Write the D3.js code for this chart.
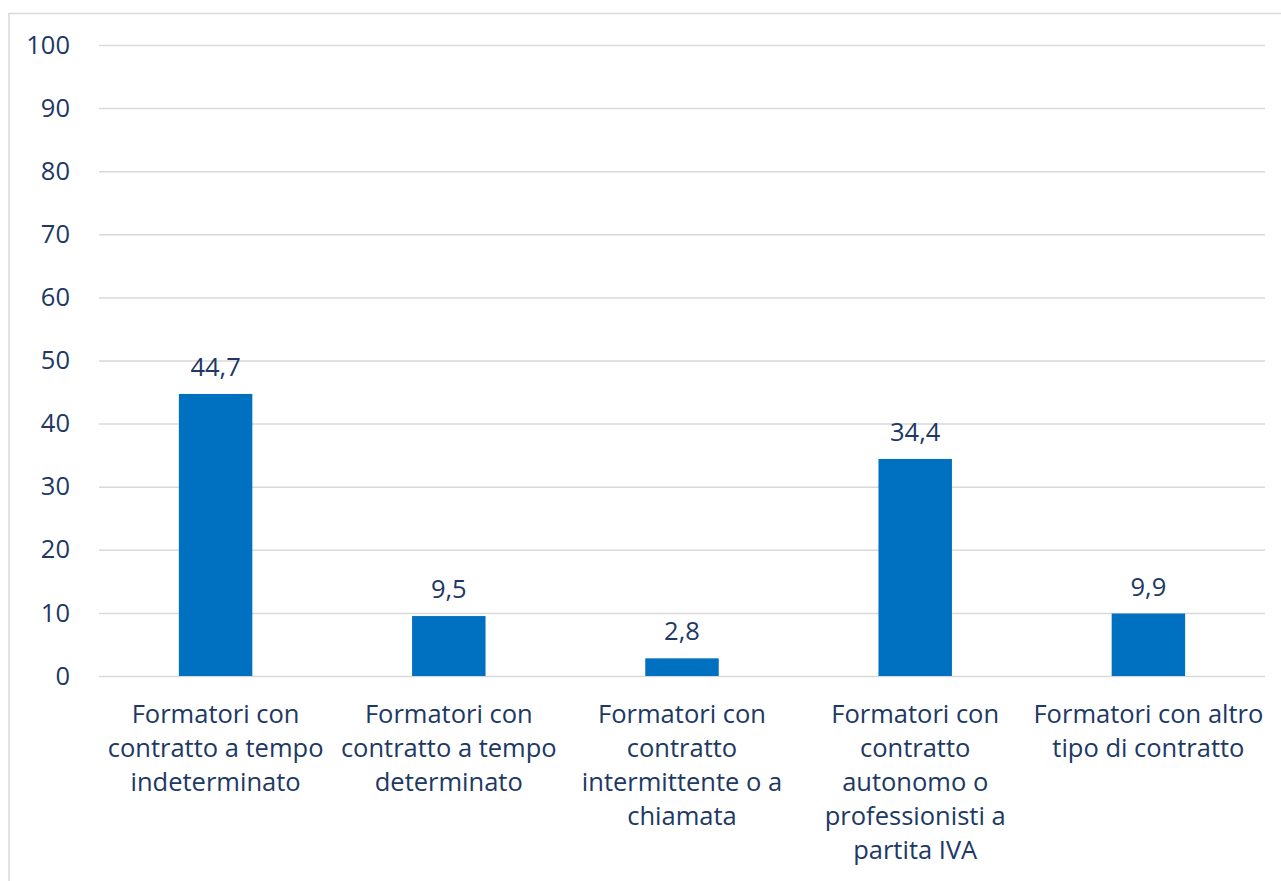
<!DOCTYPE html>
<html><head><meta charset="utf-8">
<script src="https://cdn.jsdelivr.net/npm/d3@7"></script>
<style>body{margin:0;background:#fff;} svg{display:block;}</style>
</head><body>
<svg id="chart" width="1281" height="881"></svg>
<script>
const categories = [
  ["Formatori con", "contratto a tempo", "indeterminato"],
  ["Formatori con", "contratto a tempo", "determinato"],
  ["Formatori con", "contratto", "intermittente o a", "chiamata"],
  ["Formatori con", "contratto", "autonomo o", "professionisti a", "partita IVA"],
  ["Formatori con altro", "tipo di contratto"]
];
const values = [44.7, 9.5, 2.8, 34.4, 9.9];
const yTicks = [0, 10, 20, 30, 40, 50, 60, 70, 80, 90, 100];

(function() {
const svg = d3.select("#chart");
const font = "'Open Sans', 'Noto Sans', sans-serif";
const fs = "25.5px";
const textColor = "#203864";
const mLeft = 99, mRight = 1265, mTop = 45, mBottom = 676;

svg.append("rect").attr("x", 9).attr("y", 13.5).attr("width", 1300).attr("height", 900)
  .attr("fill", "none").attr("stroke", "#d9d9d9").attr("stroke-width", 1.5);

const x = d3.scaleBand().domain(d3.range(values.length)).range([mLeft, mRight]).paddingInner(0.685).paddingOuter(0.3425);
const y = d3.scaleLinear().domain([0, 100]).range([mBottom, mTop]);

const yAxis = svg.append("g").attr("transform", `translate(${mLeft},0)`)
  .call(d3.axisLeft(y).tickValues(yTicks).tickSize(-(mRight - mLeft)).tickPadding(29));
yAxis.select(".domain").remove();
yAxis.selectAll(".tick line").attr("stroke", "#d9d9d9").attr("stroke-width", 1.5);
yAxis.selectAll(".tick text").attr("fill", textColor).style("font-family", font).style("font-size", fs);

svg.append("g").selectAll("rect").data(values).join("rect")
  .attr("x", (d, i) => x(i)).attr("width", x.bandwidth())
  .attr("y", d => y(d)).attr("height", d => y(0) - y(d))
  .attr("fill", "#0070C0");

svg.append("g").selectAll("text").data(values).join("text")
  .attr("x", (d, i) => x(i) + x.bandwidth() / 2)
  .attr("y", d => y(d) - 18)
  .attr("text-anchor", "middle").attr("fill", textColor)
  .style("font-family", font).style("font-size", fs)
  .text(d => d3.format(".1f")(d).replace(".", ","));

const labels = svg.append("g").selectAll("text").data(categories).join("text")
  .attr("text-anchor", "middle").attr("fill", textColor)
  .style("font-family", font).style("font-size", fs);
labels.each(function(lines, i) {
  const t = d3.select(this);
  lines.forEach((ln, j) => {
    t.append("tspan").attr("x", x(i) + x.bandwidth() / 2).attr("y", 723 + j * 34).text(ln);
  });
});
})();
</script>
</body></html>
